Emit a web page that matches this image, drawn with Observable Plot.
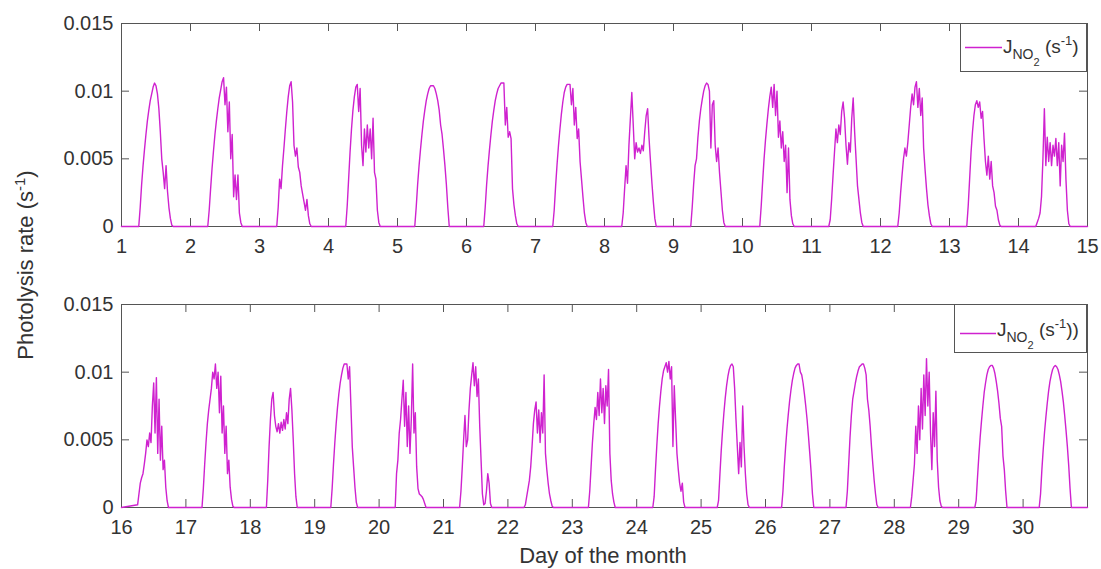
<!DOCTYPE html>
<html><head><meta charset="utf-8">
<script src="https://cdn.jsdelivr.net/npm/d3@7"></script>
<script src="https://cdn.jsdelivr.net/npm/@observablehq/plot@0.6"></script>
<style>
html,body{margin:0;padding:0;background:#fff;}
#chart{position:relative;width:1101px;height:569px;overflow:hidden;font-family:"Liberation Sans",Arial,sans-serif;}
#chart > svg{position:absolute;left:0;}
</style></head><body><div id="chart"></div>
<script>
// Sampling times (hours of day) for every daily record
const halfHours = [6,6.5,7,7.5,8,8.5,9,9.5,10,10.5,11,11.5,12,12.5,13,13.5,14,14.5,15,15.5,16,16.5,17,17.5,18];
// J_NO2 values in units of 1e-4 s^-1, one array per day
const day01 = [0,14,31,45,57,68,78,86,93,98,103,106,104,98,87,70,50,40,28,45,26,14,6,1,0];
const day02 = [0,12,28,43,56,68,78,87,95,101,107,110,90,103,70,92,50,68,22,38,20,38,10,3,0];
const day03 = [0,14,35,28,45,58,72,85,96,104,107,92,60,52,58,44,40,30,24,18,12,20,8,2,0];
const day04 = [0,15,35,55,72,86,96,103,105,85,102,60,45,72,55,75,58,72,50,80,40,35,12,3,0];
const day05 = [0,14,31,45,57,68,78,86,93,98,102,104,104,104,102,98,93,86,75,68,57,45,31,14,0];
const day06 = [0,14,31,45,57,68,78,86,93,98,102,104,106,106,106,75,88,66,70,65,28,16,8,2,0];
const day07 = [0,12,30,46,60,72,83,92,99,103,105,105,105,90,102,75,88,65,72,48,35,22,10,3,0];
const day08 = [0,10,28,45,32,60,80,99,75,50,62,55,58,54,60,56,70,82,87,65,48,32,18,6,0];
const day09 = [0,14,31,45,50,66,78,87,94,100,104,106,105,100,58,90,93,60,48,58,40,26,12,3,0];
const day10 = [0,15,33,50,64,76,87,96,103,88,105,82,100,66,78,58,70,48,60,25,58,20,8,2,0];
const day11 = [0,5,20,38,55,72,62,75,68,85,92,80,60,46,62,55,80,95,70,50,30,20,10,3,0];
const day12 = [0,10,25,38,50,58,52,62,75,88,98,90,103,107,88,102,82,95,58,42,28,16,8,2,0];
const day13 = [0,15,35,55,70,82,90,93,88,92,80,85,65,48,38,52,35,48,30,25,15,12,5,1,0];
const day14 = [0,3,6,10,22,50,87,45,66,48,62,45,60,52,65,45,62,30,60,48,69,35,12,2,0];
const day16 = [2,10,18,22,25,32,40,50,45,55,48,75,92,55,96,40,80,35,60,28,35,15,5,0,0];
const day17 = [0,14,32,48,62,72,80,88,100,95,106,88,100,70,97,55,75,40,60,25,35,15,6,1,0];
const day18 = [0,20,45,65,80,85,68,60,56,62,55,63,57,65,58,70,62,80,88,72,50,25,8,0,0];
const day19 = [0,14,32,48,62,74,84,92,98,103,106,106,106,95,104,75,45,30,15,4,0,0,0,0,0];
const day20 = [0,25,35,55,65,80,94,60,85,45,75,40,65,106,55,70,30,14,10,9,8,6,3,0,0];
const day21 = [0,12,30,50,68,45,50,72,88,98,107,90,104,82,95,60,35,10,2,3,12,25,18,3,0];
const day22 = [0,2,8,14,20,30,45,62,72,78,55,72,48,70,55,98,40,28,18,10,5,1,0,0,0];
const day23 = [0,12,30,48,62,74,65,85,68,95,70,88,62,90,75,102,40,20,10,4,0,0,0,0,0];
const day24 = [0,8,28,46,62,75,86,95,101,104,107,100,108,95,104,45,90,65,40,28,18,12,18,4,0];
const day25 = [0,5,24,42,57,70,81,90,97,102,105,106,104,88,65,45,25,48,30,75,45,25,10,2,0];
const day26 = [0,12,30,45,58,69,79,87,94,99,103,105,106,106,100,98,92,84,75,65,53,40,26,10,0];
const day27 = [0,12,32,52,68,80,86,92,97,101,104,105,106,106,103,98,80,72,60,45,32,20,10,2,0];
const day28 = [0,8,20,32,60,40,75,50,88,58,98,68,110,75,100,55,28,70,45,86,35,15,5,1,0];
const day29 = [0,5,22,38,52,64,75,85,92,98,102,104,105,105,103,99,93,86,77,66,60,38,28,12,0];
const day30 = [0,10,28,43,56,67,77,86,93,98,102,104,105,104,102,98,93,86,78,68,57,45,31,14,0];

const topDays = [1,2,3,4,5,6,7,8,9,10,11,12,13,14];
const topRecords = [day01,day02,day03,day04,day05,day06,day07,day08,day09,day10,day11,day12,day13,day14];
const bottomDays = [16,17,18,19,20,21,22,23,24,25,26,27,28,29,30];
const bottomRecords = [day16,day17,day18,day19,day20,day21,day22,day23,day24,day25,day26,day27,day28,day29,day30];

const topDomain = [1, 15];
const bottomDomain = [16, 31];
const topTicks = [1,2,3,4,5,6,7,8,9,10,11,12,13,14,15];
const bottomTicks = [16,17,18,19,20,21,22,23,24,25,26,27,28,29,30];
const yTicks = [0, 0.005, 0.01, 0.015];
const yTickLabels = ["0", "0.005", "0.01", "0.015"];

const FONT = '"Liberation Sans", Arial, Helvetica, sans-serif';
const LINE = "#cf22cf";
const AXIS = "#555";
const TEXT = "#333";

function buildSeries(days, records, domain) {
  const pts = [{t: domain[0], v: 0}];
  days.forEach((d, k) => {
    records[k].forEach((val, i) => pts.push({t: d + halfHours[i] / 24, v: val * 1e-4}));
  });
  pts.push({t: domain[1], v: 0});
  return pts;
}

const W = 1101, H = 262, ML = 121, MR = 14, MT = 23, MB = 36;
const FW = W - ML - MR, FH = H - MT - MB, T = 8; // frame size, inward tick length

function panel(data, domain, ticks) {
  return Plot.plot({
    width: W, height: H,
    marginLeft: ML, marginRight: MR, marginTop: MT, marginBottom: MB,
    style: {fontFamily: FONT, fontSize: "20px", color: TEXT, background: "transparent"},
    x: {domain: domain},
    y: {domain: [0, 0.015]},
    marks: [
      Plot.frame({stroke: AXIS, strokeWidth: 1}),
      // tick labels
      Plot.axisX(ticks, {anchor: "bottom", tickSize: 0, tickPadding: 12, label: null, tickFormat: d => String(d)}),
      Plot.axisY(yTicks, {anchor: "left", tickSize: 0, tickPadding: 8, label: null, tickFormat: d => yTickLabels[yTicks.indexOf(d)]}),
      // inward ticks on all four sides
      Plot.ruleX(ticks, {x: d => d, stroke: AXIS, insetTop: FH - T}),
      Plot.ruleX(ticks, {x: d => d, stroke: AXIS, insetBottom: FH - T}),
      Plot.ruleY(yTicks, {y: d => d, stroke: AXIS, insetRight: FW - T}),
      Plot.ruleY(yTicks, {y: d => d, stroke: AXIS, insetLeft: FW - T}),
      Plot.line(data, {x: "t", y: "v", stroke: LINE, strokeWidth: 1.4})
    ]
  });
}

const chart = document.getElementById("chart");
const p1 = panel(buildSeries(topDays, topRecords, topDomain), topDomain, topTicks);
p1.style.top = "0px";
const p2 = panel(buildSeries(bottomDays, bottomRecords, bottomDomain), bottomDomain, bottomTicks);
p2.style.top = "281px";
chart.appendChild(p1);
chart.appendChild(p2);

// Overlay: axis titles and legends
const NS = "http://www.w3.org/2000/svg";
const ov = document.createElementNS(NS, "svg");
ov.setAttribute("width", 1101); ov.setAttribute("height", 569);
ov.style.top = "0px";
ov.style.fontFamily = FONT;
ov.innerHTML = `
  <text transform="translate(33,265) rotate(-90)" text-anchor="middle" font-size="22" fill="${TEXT}">Photolysis rate (s<tspan dy="-8" font-size="15">-1</tspan><tspan dy="8">)</tspan></text>
  <text x="603" y="563" text-anchor="middle" font-size="22" fill="${TEXT}">Day of the month</text>
  <rect x="960.5" y="23.5" width="126" height="48" fill="#fff" stroke="${AXIS}" stroke-width="1"/>
  <line x1="965" x2="1002" y1="47.5" y2="47.5" stroke="${LINE}" stroke-width="1.4"/>
  <text x="1003" y="53" font-size="19" fill="${TEXT}">J<tspan dy="6" font-size="14">NO</tspan><tspan dy="7" font-size="11">2</tspan><tspan dy="-13" font-size="19"> (s</tspan><tspan dy="-8" font-size="13">-1</tspan><tspan dy="8" font-size="19">)</tspan></text>
  <rect x="954.5" y="304.5" width="132" height="48" fill="#fff" stroke="${AXIS}" stroke-width="1"/>
  <line x1="960" x2="996" y1="333.5" y2="333.5" stroke="${LINE}" stroke-width="1.4"/>
  <text x="997" y="336" font-size="19" fill="${TEXT}">J<tspan dy="6" font-size="14">NO</tspan><tspan dy="7" font-size="11">2</tspan><tspan dy="-13" font-size="19"> (s</tspan><tspan dy="-8" font-size="13">-1</tspan><tspan dy="8" font-size="19">))</tspan></text>
`;
chart.appendChild(ov);
</script></body></html>
